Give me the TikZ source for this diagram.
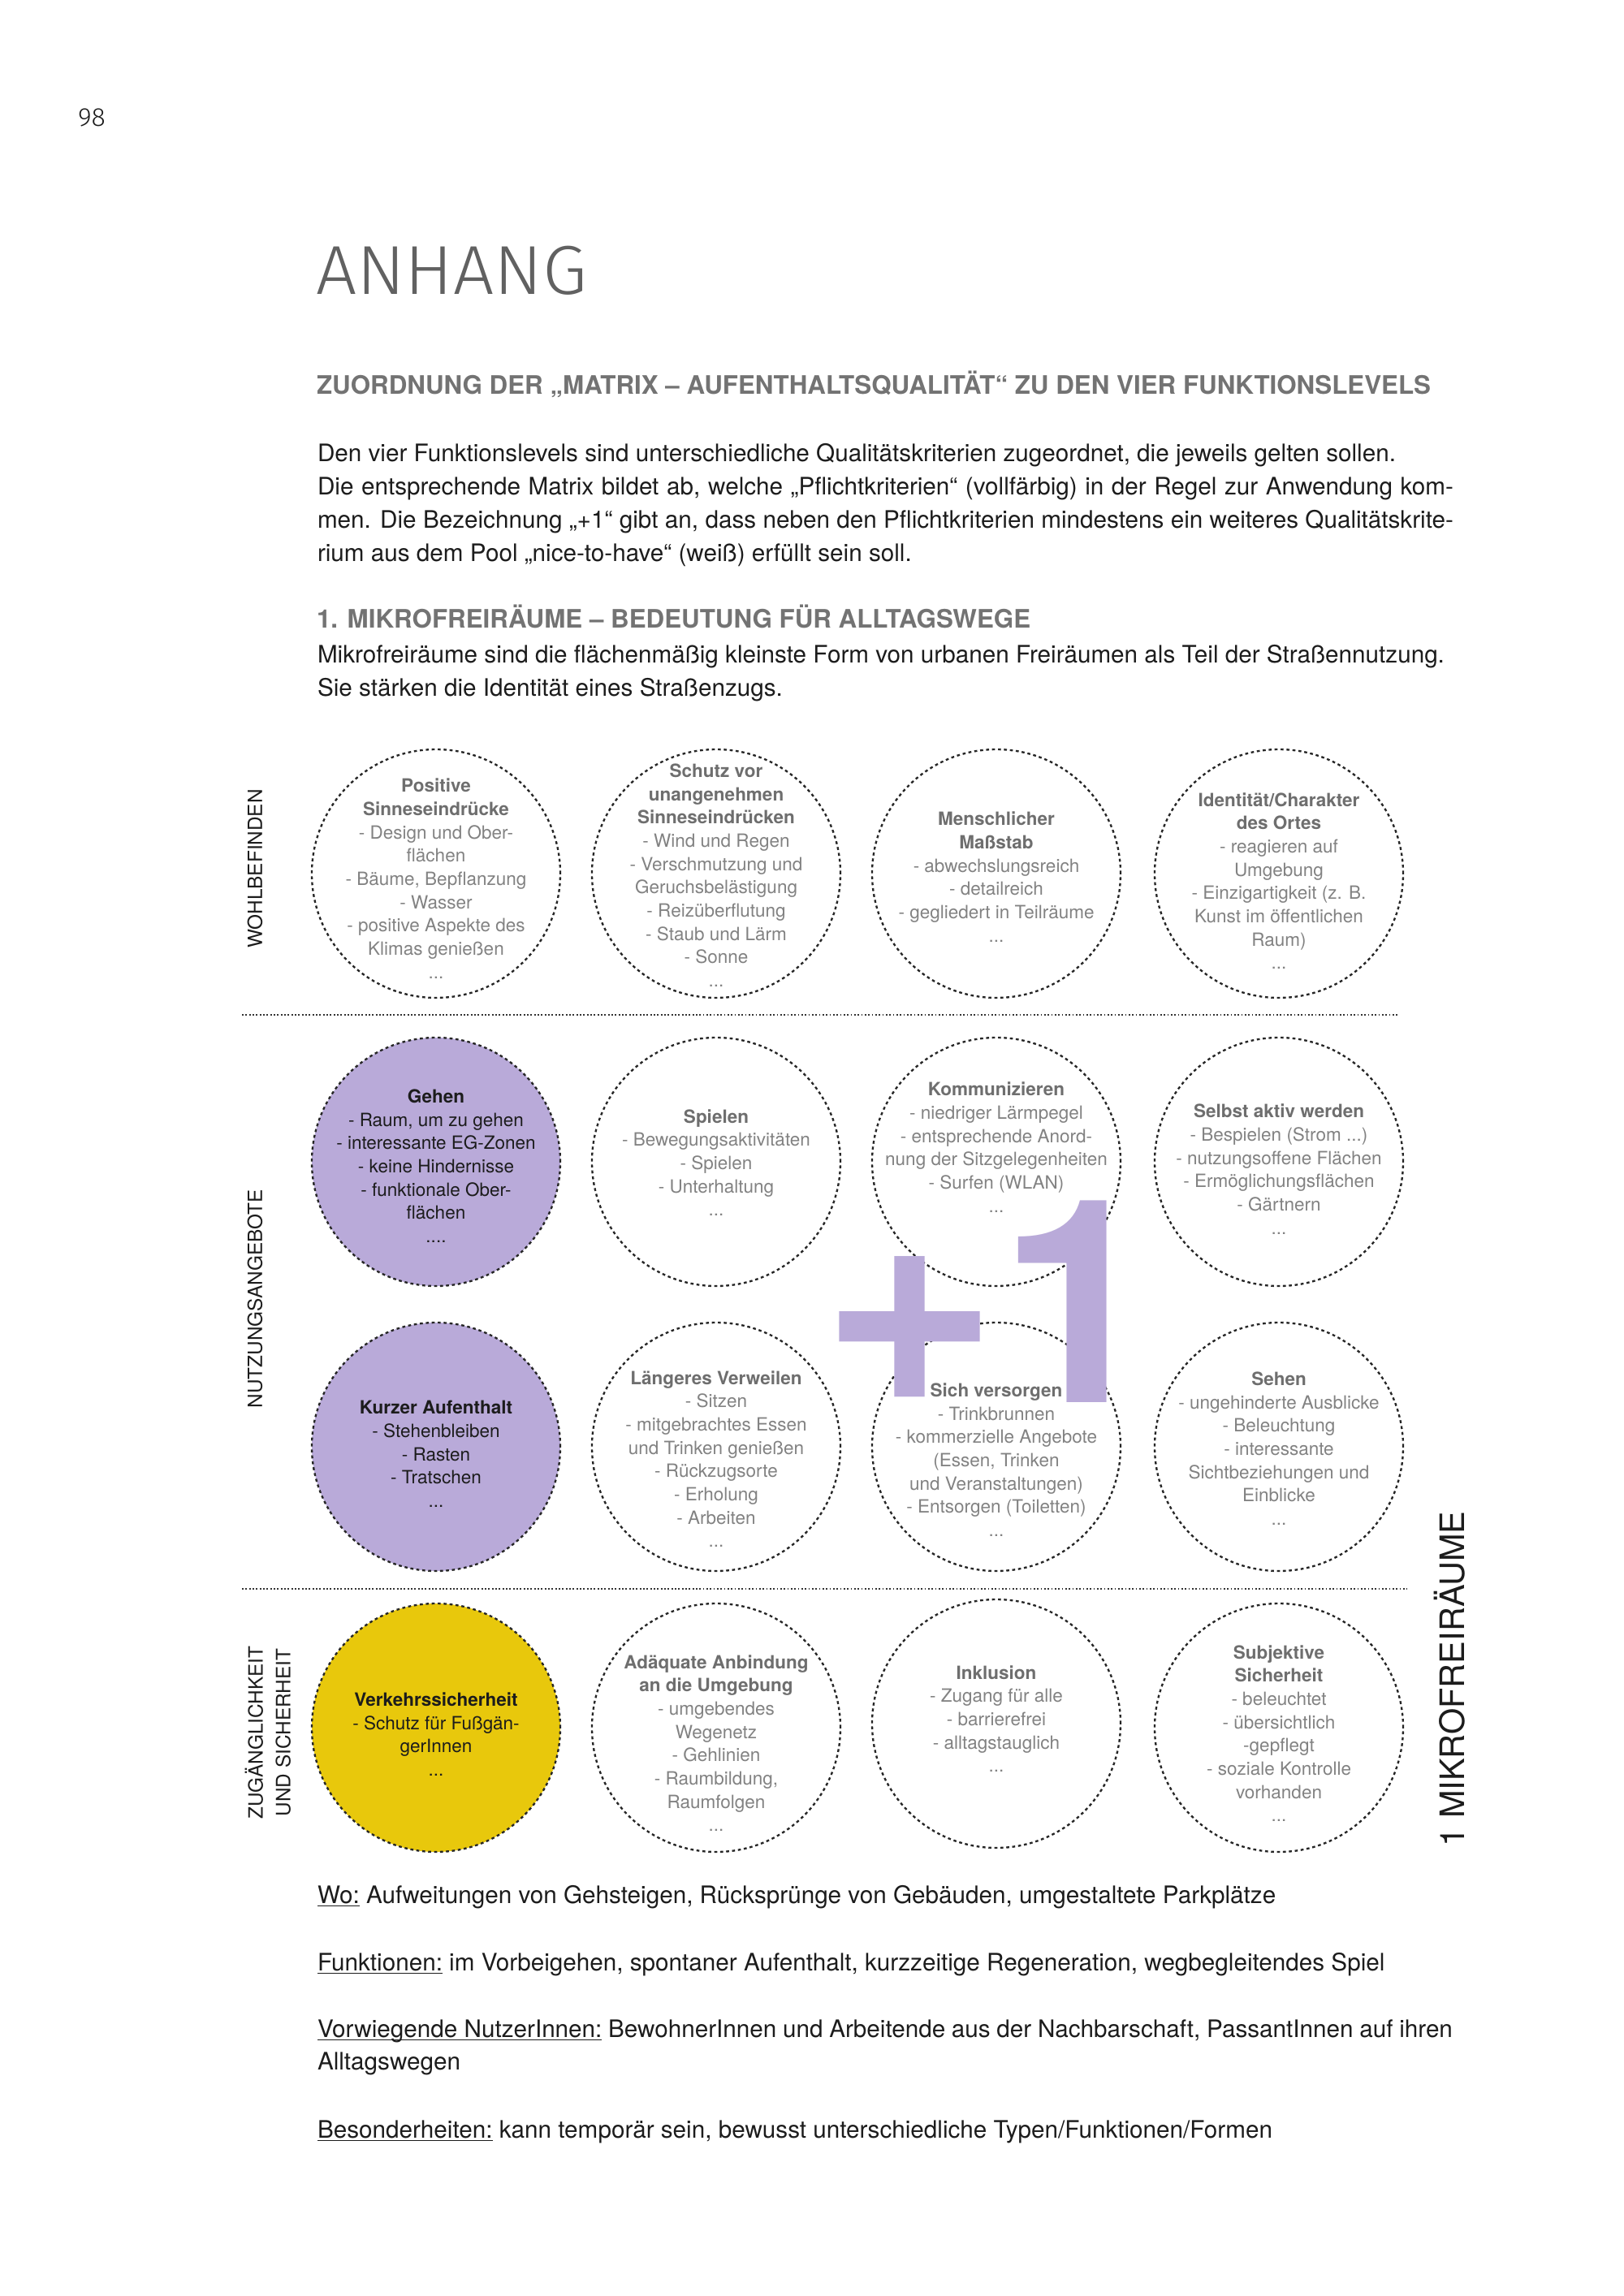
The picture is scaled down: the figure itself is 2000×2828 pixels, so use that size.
\documentclass[tikz,border=0pt]{standalone}
\usepackage{fontspec}
\setmainfont{TeX Gyre Heros}
\newfontfamily\thinfont{Fira Sans Light}
\definecolor{lila}{RGB}{185,170,217}
\definecolor{gelb}{RGB}{232,200,12}
\definecolor{txtgray}{RGB}{130,130,130}
\definecolor{ttlgray}{RGB}{110,110,110}
\definecolor{headgray}{RGB}{115,115,115}
\definecolor{ink}{RGB}{28,28,28}
\newcommand\ulx[1]{\setbox0\hbox{#1}\rlap{\rule[-1.3pt]{\wd0}{0.55pt}}\box0{}}
\newcommand\T[1]{{\bfseries\color{ttlgray}#1}}
\newcommand\B[1]{{\bfseries #1}}
\newcommand\bodyfont{\fontsize{8.9pt}{12.3pt}\selectfont}
\newcommand\headfont{\fontsize{9.4pt}{11pt}\selectfont\bfseries}
\begin{document}
\begin{tikzpicture}[x=0.3pt,y=-0.3pt,
  every node/.style={inner sep=0pt, outer sep=0pt},
  circ/.style={circle, minimum size=91.8pt, draw=black!85, line width=0.7pt, dash pattern=on 1.1pt off 1.1pt},
  ctext/.style={align=center, font=\fontsize{6.75pt}{8.6pt}\selectfont, text=txtgray},
  ctextc/.style={ctext, text=ink},
  sepline/.style={draw=black!80, line width=0.55pt, dash pattern=on 0.55pt off 0.75pt},
  body/.style={anchor=base west, font=\bodyfont, text=ink},
  head/.style={anchor=base west, font=\headfont, text=headgray},
  rowlabel/.style={rotate=90, align=center, font=\fontsize{7.3pt}{10.2pt}\selectfont, text=ink},
  big/.style={anchor=base west, text=lila}
]
\useasboundingbox (0,0) rectangle (2000,2828);
\fill[white] (0,0) rectangle (2000,2828);

% page number and titles
\node[anchor=base west, font=\thinfont\fontsize{9.6pt}{10pt}\selectfont, text=ink] (pnum) at (96,155) {98};
\node[anchor=base west, text=black!62] (anhang) at (389,362) {\scalebox{1.04}[1]{\thinfont\fontsize{25.6pt}{27pt}\selectfont ANHANG}};
\node[head] (h1) at (390,485) {ZUORDNUNG DER „MATRIX – AUFENTHALTSQUALITÄT“ ZU DEN VIER FUNKTIONSLEVELS};

\node[body] (p1) at (391,568) {Den vier Funktionslevels sind unterschiedliche Qualitätskriterien zugeordnet, die jeweils gelten sollen.};
\node[body] (p2) at (391,609) {\makebox[419.7pt][s]{Die entsprechende Matrix bildet ab, welche „Pflichtkriterien“ (vollfärbig) in der Regel zur Anwendung kom-}};
\node[body] (p3) at (391,650) {\makebox[419.7pt][s]{men. Die Bezeichnung „+1“ gibt an, dass neben den Pflichtkriterien mindestens ein weiteres Qualitätskrite-}};
\node[body] (p4) at (391,691) {rium aus dem Pool „nice-to-have“ (weiß) erfüllt sein soll.};

\node[head] (h2) at (390,773) {1. MIKROFREIRÄUME – BEDEUTUNG FÜR ALLTAGSWEGE};
\node[body] (m1) at (391,816) {Mikrofreiräume sind die flächenmäßig kleinste Form von urbanen Freiräumen als Teil der Straßennutzung.};
\node[body] (m2) at (391,857) {Sie stärken die Identität eines Straßenzugs.};

% row labels
\node[rowlabel] (l1) at (314,1070) {WOHLBEFINDEN};
\node[rowlabel] (l2) at (314,1600) {NUTZUNGSANGEBOTE};
\node[rowlabel] (l3) at (330,2134) {ZUGÄNGLICHKEIT\\UND SICHERHEIT};
\node[rotate=90, font=\fontsize{12.45pt}{14pt}\selectfont, text=ink] (mikro) at (1785,2068) {1 MIKROFREIRÄUME};

% separators
\draw[sepline] (298,1250) -- (1722,1250);
\draw[sepline] (298,1957) -- (1733,1957);

% circles
\node[circ] (c11) at (537,1076) {};
\node[circ] (c12) at (882,1076) {};
\node[circ] (c13) at (1227,1076) {};
\node[circ] (c14) at (1575,1076) {};
\node[circ, fill=lila] (c21) at (537,1431) {};
\node[circ] (c22) at (882,1431) {};
\node[circ] (c23) at (1227,1431) {};
\node[circ] (c24) at (1575,1431) {};
\node[circ, fill=lila] (c31) at (537,1782) {};
\node[circ] (c32) at (882,1782) {};
\node[circ] (c33) at (1227,1782) {};
\node[circ] (c34) at (1575,1782) {};
\node[circ, fill=gelb] (c41) at (537,2128) {};
\node[circ] (c42) at (882,2128) {};
\node[circ] (c43) at (1227,2123) {};
\node[circ] (c44) at (1575,2128) {};

% +1
\node[big, font=\fontsize{112pt}{112pt}\selectfont\bfseries] (plus) at (1011,1727) {+};
\node[big, font=\fontsize{105.2pt}{106pt}\selectfont\bfseries] (one) at (1230,1727) {1};

% circle texts
\node[ctext] (t11) at (537,1082) {\T{Positive}\\\T{Sinneseindrücke}\\- Design und Ober-\\flächen\\- Bäume, Bepflanzung\\- Wasser\\- positive Aspekte des\\Klimas genießen\\...};
\node[ctext] (t12) at (882,1078) {\T{Schutz vor}\\\T{unangenehmen}\\\T{Sinneseindrücken}\\- Wind und Regen\\- Verschmutzung und\\Geruchsbelästigung\\- Reizüberflutung\\- Staub und Lärm\\- Sonne\\...};
\node[ctext] (t13) at (1227,1080) {\T{Menschlicher}\\\T{Maßstab}\\- abwechslungsreich\\- detailreich\\- gegliedert in Teilräume\\...};
\node[ctext] (t14) at (1575,1085) {\T{Identität/Charakter}\\\T{des Ortes}\\- reagieren auf\\Umgebung\\- Einzigartigkeit (z. B.\\Kunst im öffentlichen\\Raum)\\...};

\node[ctextc] (t21) at (537,1436) {\B{Gehen}\\- Raum, um zu gehen\\- interessante EG-Zonen\\- keine Hindernisse\\- funktionale Ober-\\flächen\\....};
\node[ctext] (t22) at (882,1432) {\T{Spielen}\\- Bewegungsaktivitäten\\- Spielen\\- Unterhaltung\\...};
\node[ctext] (t23) at (1227,1413) {\T{Kommunizieren}\\- niedriger Lärmpegel\\- entsprechende Anord-\\nung der Sitzgelegenheiten\\- Surfen (WLAN)\\...};
\node[ctext] (t24) at (1575,1440) {\T{Selbst aktiv werden}\\- Bespielen (Strom ...)\\- nutzungsoffene Flächen\\- Ermöglichungsflächen\\- Gärtnern\\...};

\node[ctextc] (t31) at (537,1791) {\B{Kurzer Aufenthalt}\\- Stehenbleiben\\- Rasten\\- Tratschen\\...};
\node[ctext] (t32) at (882,1797) {\T{Längeres Verweilen}\\- Sitzen\\- mitgebrachtes Essen\\und Trinken genießen\\- Rückzugsorte\\- Erholung\\- Arbeiten\\...};
\node[ctext] (t33) at (1227,1798) {\T{Sich versorgen}\\- Trinkbrunnen\\- kommerzielle Angebote\\(Essen, Trinken\\und Veranstaltungen)\\- Entsorgen (Toiletten)\\...};
\node[ctext] (t34) at (1575,1784) {\T{Sehen}\\- ungehinderte Ausblicke\\- Beleuchtung\\- interessante\\Sichtbeziehungen und\\Einblicke\\...};

\node[ctextc] (t41) at (537,2136) {\B{Verkehrssicherheit}\\- Schutz für Fußgän-\\gerInnen\\...};
\node[ctext] (t42) at (882,2147) {\T{Adäquate Anbindung}\\\T{an die Umgebung}\\- umgebendes\\Wegenetz\\- Gehlinien\\- Raumbildung,\\Raumfolgen\\...};
\node[ctext] (t43) at (1227,2117) {\T{Inklusion}\\- Zugang für alle\\- barrierefrei\\- alltagstauglich\\...};
\node[ctext] (t44) at (1575,2135) {\T{Subjektive}\\\T{Sicherheit}\\- beleuchtet\\- übersichtlich\\-gepflegt\\- soziale Kontrolle\\vorhanden\\...};

% bottom text
\node[body] (wo) at (391,2344) {\ulx{Wo:} Aufweitungen von Gehsteigen, Rücksprünge von Gebäuden, umgestaltete Parkplätze};
\node[body] (fk) at (391,2427) {\ulx{Funktionen:} im Vorbeigehen, spontaner Aufenthalt, kurzzeitige Regeneration, wegbegleitendes Spiel};
\node[body] (nu) at (391,2509) {\makebox[419.4pt][s]{\ulx{Vorwiegende NutzerInnen:} BewohnerInnen und Arbeitende aus der Nachbarschaft, PassantInnen auf ihren}};
\node[body] (nu2) at (391,2549) {Alltagswegen};
\node[body] (bs) at (391,2633) {\ulx{Besonderheiten:} kann temporär sein, bewusst unterschiedliche Typen/Funktionen/Formen};
\end{tikzpicture}
\end{document}
